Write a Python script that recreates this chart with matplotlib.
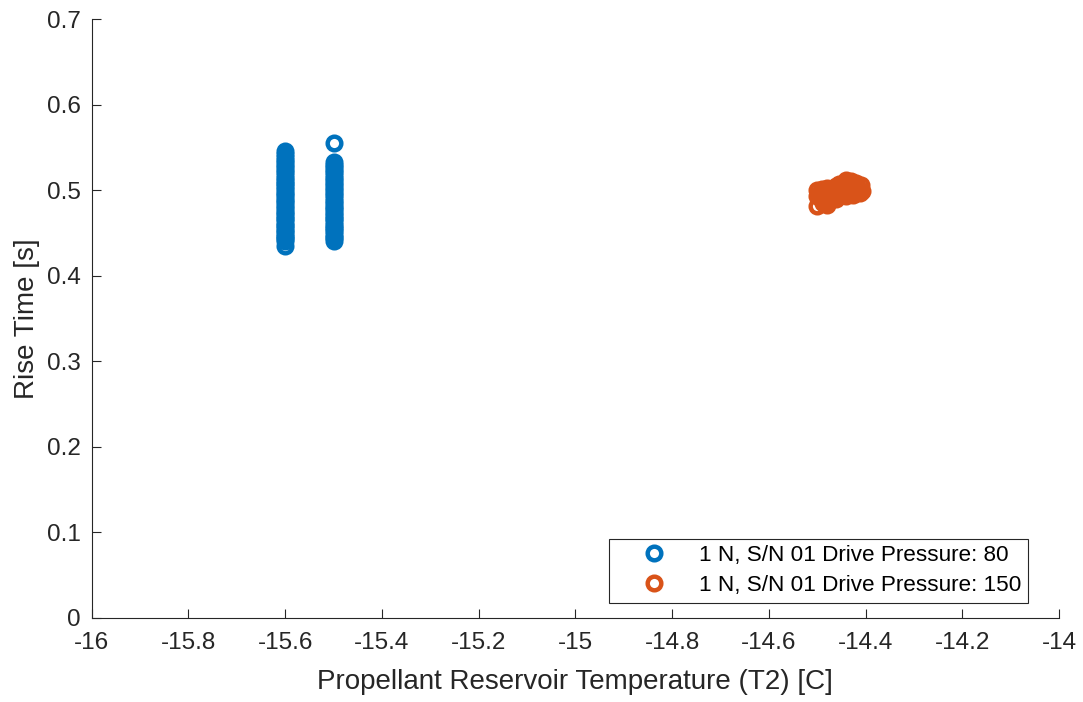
import matplotlib
matplotlib.use("Agg")
import matplotlib.pyplot as plt

plt.rcParams['font.family'] = ['Liberation Sans', 'DejaVu Sans']

# Series 1: Drive pressure 80 (two temperature readings)
rise_80_a = [0.435, 0.441, 0.443, 0.445, 0.447, 0.450, 0.452, 0.455, 0.458, 0.460,
             0.463, 0.466, 0.468, 0.471, 0.474, 0.476, 0.479, 0.482, 0.485, 0.487,
             0.490, 0.493, 0.496, 0.498, 0.501, 0.504, 0.507, 0.509, 0.512, 0.515,
             0.518, 0.521, 0.524, 0.527, 0.530, 0.533, 0.536, 0.539, 0.542, 0.546]
rise_80_b = [0.441, 0.444, 0.446, 0.449, 0.452, 0.455, 0.457, 0.460, 0.463, 0.466,
             0.468, 0.471, 0.474, 0.477, 0.479, 0.482, 0.485, 0.488, 0.491, 0.494,
             0.497, 0.500, 0.503, 0.506, 0.509, 0.512, 0.515, 0.518, 0.521, 0.524,
             0.527, 0.530, 0.533, 0.555]
temp_80 = [-15.6] * len(rise_80_a) + [-15.5] * len(rise_80_b)
rise_80 = rise_80_a + rise_80_b

# Series 2: Drive pressure 150
temp_150 = [-14.500, -14.500, -14.495, -14.490, -14.490, -14.485, -14.480, -14.480,
            -14.475, -14.470, -14.470, -14.465, -14.460, -14.460, -14.455, -14.450,
            -14.450, -14.445, -14.440, -14.440, -14.435, -14.430, -14.430, -14.425,
            -14.420, -14.420, -14.415, -14.410, -14.408, -14.440, -14.430, -14.455,
            -14.500, -14.488, -14.478, -14.465, -14.445, -14.425, -14.412]
rise_150 = [0.500, 0.493, 0.497, 0.501, 0.489, 0.495, 0.503, 0.483, 0.498, 0.502,
            0.492, 0.496, 0.505, 0.490, 0.499, 0.503, 0.494, 0.497, 0.508, 0.493,
            0.501, 0.511, 0.496, 0.504, 0.509, 0.497, 0.502, 0.506, 0.499, 0.512,
            0.507, 0.507, 0.482, 0.485, 0.488, 0.494, 0.500, 0.495, 0.497]

labels = ['1 N, S/N 01 Drive Pressure: 80', '1 N, S/N 01 Drive Pressure: 150']
colors = ['#0072BD', '#D95319']

fig = plt.figure(figsize=(10.83, 7.02), dpi=100)
ax = fig.add_axes([0.0847, 0.1197, 0.8931, 0.8528])

mk = dict(marker='o', linestyle='none', markerfacecolor='none',
          markersize=9.8, markeredgewidth=3.2)
ax.plot(temp_80, rise_80, markeredgecolor=colors[0], label=labels[0], **mk)
ax.plot(temp_150, rise_150, markeredgecolor=colors[1], label=labels[1], **mk)

ax.set_xlim(-16, -14)
ax.set_ylim(0, 0.7)
ax.set_xticks([-16, -15.8, -15.6, -15.4, -15.2, -15, -14.8, -14.6, -14.4, -14.2, -14])
ax.set_xticklabels(['-16', '-15.8', '-15.6', '-15.4', '-15.2', '-15', '-14.8',
                    '-14.6', '-14.4', '-14.2', '-14'])
ax.set_yticks([0, 0.1, 0.2, 0.3, 0.4, 0.5, 0.6, 0.7])
ax.set_yticklabels(['0', '0.1', '0.2', '0.3', '0.4', '0.5', '0.6', '0.7'])

tc = '#262626'
ax.spines['top'].set_visible(False)
ax.spines['right'].set_visible(False)
for s in ('left', 'bottom'):
    ax.spines[s].set_color(tc)
    ax.spines[s].set_linewidth(0.8)
ax.tick_params(direction='in', length=6.7, width=0.8, colors=tc, labelsize=17.5)
ax.tick_params(axis='x', pad=10)
ax.tick_params(axis='y', pad=8)

ax.set_xlabel('Propellant Reservoir Temperature (T2) [C]', fontsize=20, color=tc, labelpad=11)
ax.set_ylabel('Rise Time [s]', fontsize=20, color=tc, labelpad=5)

leg = ax.legend(loc='lower right', bbox_to_anchor=(0.968, 0.025), borderaxespad=0,
                fontsize=16.2, frameon=True, fancybox=False, edgecolor=tc,
                framealpha=1, handletextpad=0.3, borderpad=0.3,
                labelspacing=0.4, handlelength=3.4)
leg.get_frame().set_linewidth(0.8)

fig.savefig('out.png', dpi=100)
